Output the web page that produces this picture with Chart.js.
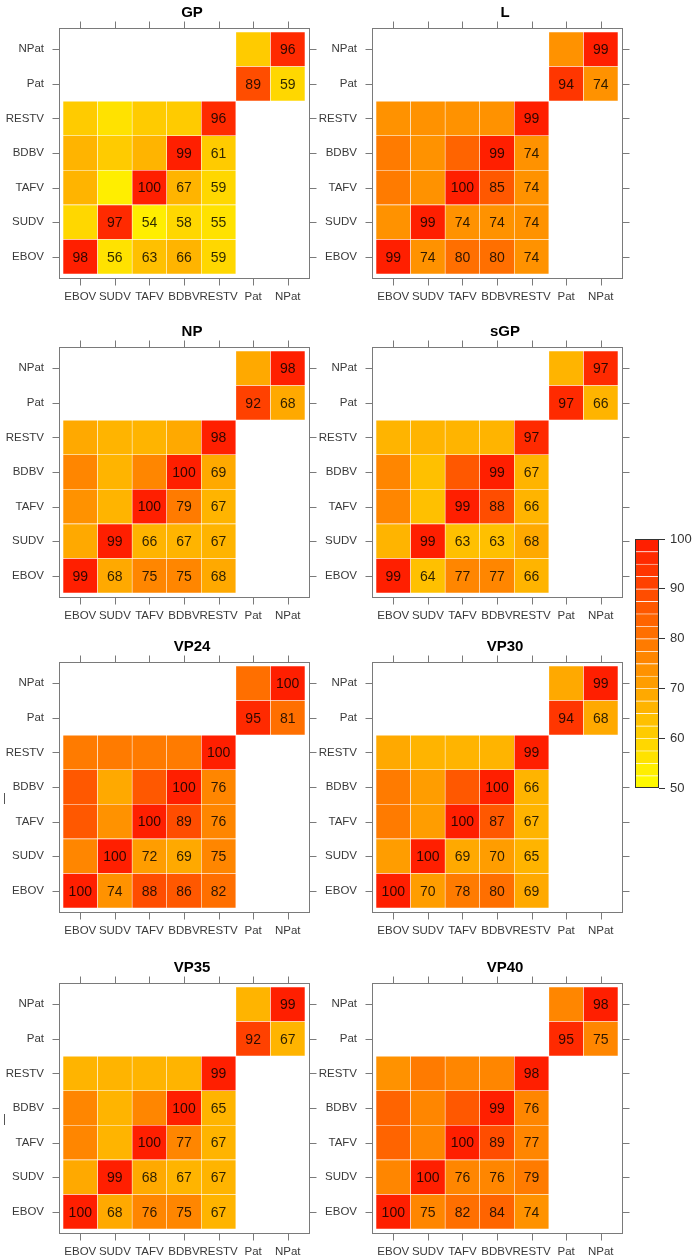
<!DOCTYPE html>
<html>
<head>
<meta charset="utf-8">
<script src="https://cdn.jsdelivr.net/npm/chart.js@4/dist/chart.umd.min.js"></script>
<style>
html,body{margin:0;padding:0;background:#fff;}
body{position:relative;width:697px;height:1260px;overflow:hidden;}
canvas{position:absolute;}
</style>
</head>
<body>
<script>
// ---------- DATA ----------
const categories = ['EBOV','SUDV','TAFV','BDBV','RESTV','Pat','NPat'];
const panelNames = ['GP','L','NP','sGP','VP24','VP30','VP35','VP40'];
const colorbarTicks = [50,60,70,80,90,100];
const colorbarMin = 50, colorbarMax = 100, colorbarStep = 2.5;

// rows bottom -> top: EBOV, SUDV, TAFV, BDBV, RESTV, Pat, NPat ; columns EBOV..NPat
const GP = [
  [98, 56, 63, 66, 59, null, null],
  [58, 97, 54, 58, 55, null, null],
  [66, 54, 100, 67, 59, null, null],
  [67, 60, 66, 99, 61, null, null],
  [61, 55, 60, 61, 96, null, null],
  [null, null, null, null, null, 89, 59],
  [null, null, null, null, null, 60, 96]
];
const L = [
  [99, 74, 80, 80, 74, null, null],
  [74, 99, 74, 74, 74, null, null],
  [79, 74, 100, 85, 74, null, null],
  [79, 74, 84, 99, 74, null, null],
  [74, 74, 74, 74, 99, null, null],
  [null, null, null, null, null, 94, 74],
  [null, null, null, null, null, 74, 99]
];
const NP = [
  [99, 68, 75, 75, 68, null, null],
  [68, 99, 66, 67, 67, null, null],
  [74, 67, 100, 79, 67, null, null],
  [76, 67, 77, 100, 69, null, null],
  [68, 67, 67, 68, 98, null, null],
  [null, null, null, null, null, 92, 68],
  [null, null, null, null, null, 68, 98]
];
const sGP = [
  [99, 64, 77, 77, 66, null, null],
  [65, 99, 63, 63, 68, null, null],
  [77, 64, 99, 88, 66, null, null],
  [77, 64, 87, 99, 67, null, null],
  [66, 67, 66, 66, 97, null, null],
  [null, null, null, null, null, 97, 66],
  [null, null, null, null, null, 66, 97]
];
const VP24 = [
  [100, 74, 88, 86, 82, null, null],
  [75, 100, 72, 69, 75, null, null],
  [87, 74, 100, 89, 76, null, null],
  [86, 69, 87, 100, 76, null, null],
  [79, 78, 78, 78, 100, null, null],
  [null, null, null, null, null, 95, 81],
  [null, null, null, null, null, 81, 100]
];
const VP30 = [
  [100, 70, 78, 80, 69, null, null],
  [70, 100, 69, 70, 65, null, null],
  [79, 70, 100, 87, 67, null, null],
  [79, 71, 86, 100, 66, null, null],
  [69, 66, 66, 66, 99, null, null],
  [null, null, null, null, null, 94, 68],
  [null, null, null, null, null, 68, 99]
];
const VP35 = [
  [100, 68, 76, 75, 67, null, null],
  [68, 99, 68, 67, 67, null, null],
  [76, 67, 100, 77, 67, null, null],
  [76, 67, 77, 100, 65, null, null],
  [67, 67, 67, 67, 99, null, null],
  [null, null, null, null, null, 92, 67],
  [null, null, null, null, null, 67, 99]
];
const VP40 = [
  [100, 75, 82, 84, 74, null, null],
  [75, 100, 76, 76, 79, null, null],
  [83, 75, 100, 89, 77, null, null],
  [84, 75, 87, 99, 76, null, null],
  [74, 79, 76, 76, 98, null, null],
  [null, null, null, null, null, 95, 75],
  [null, null, null, null, null, 75, 98]
];
const panelData = [GP, L, NP, sGP, VP24, VP30, VP35, VP40];

// ---------- STYLE / LAYOUT ----------
const FONT = "'Liberation Sans', Arial, Helvetica, sans-serif";
const canvasTops = [0, 319, 634, 955];
const canvasLefts = [0, 313];
const CW = 319, CH = 310;

function heatColor(v){
  const n = (colorbarMax - colorbarMin) / colorbarStep;
  const k = Math.min(n - 1, Math.max(0, Math.floor((v - colorbarMin) / colorbarStep)));
  const c = colorbarMin + colorbarStep * k + colorbarStep / 2;
  const g = Math.round(255 - 4.6 * (c - colorbarMin));
  return 'rgb(255,' + g + ',0)';
}

const panelPlugin = {
  id: 'panelDeco',
  afterDatasetsDraw(chart) {
    const ctx = chart.ctx, a = chart.chartArea;
    const opts = chart.options.plugins.panelDeco;
    // cell numbers
    ctx.save();
    ctx.font = '14px ' + FONT;
    ctx.fillStyle = 'rgba(0,0,0,0.82)';
    ctx.textAlign = 'center';
    ctx.textBaseline = 'middle';
    chart.data.datasets.forEach((ds, r) => {
      const meta = chart.getDatasetMeta(r);
      ds.values.forEach((v, c) => {
        if (v == null || c < r) return;
        const p = meta.data[c].getCenterPoint();
        ctx.fillText(String(v), p.x, p.y + 1);
      });
    });
    ctx.restore();
    // frame and ticks
    ctx.save();
    ctx.strokeStyle = '#7a7a7a';
    ctx.lineWidth = 1;
    const Lx = Math.round(a.left - 4) + 0.5, Rx = Math.round(a.right + 4) + 0.5;
    const Ty = Math.round(a.top - 4) + 0.5, By = Math.round(a.bottom + 4) + 0.5;
    ctx.strokeRect(Lx, Ty, Rx - Lx, By - Ty);
    ctx.beginPath();
    const xs = chart.scales.x, ys = chart.scales.y;
    xs.ticks.forEach((t, i) => {
      const x = Math.round(xs.getPixelForTick(i)) + 0.5;
      ctx.moveTo(x, By); ctx.lineTo(x, By + 7);
      ctx.moveTo(x, Ty); ctx.lineTo(x, Ty - 7);
    });
    ys.ticks.forEach((t) => {
      const y = Math.round(ys.getPixelForValue(t.value)) + 0.5;
      ctx.moveTo(Lx, y); ctx.lineTo(Lx - 7, y);
      ctx.moveTo(Rx, y); ctx.lineTo(Rx + 7, y);
    });
    ctx.stroke();
    // clipped axis-title stub seen at far left of some panels
    if (opts.stub) {
      ctx.strokeStyle = '#555';
      ctx.beginPath();
      ctx.moveTo(4.5, a.top + 127); ctx.lineTo(4.5, a.top + 138);
      ctx.stroke();
    }
    // title
    ctx.font = 'bold 15px ' + FONT;
    ctx.fillStyle = '#000';
    ctx.textAlign = 'center';
    ctx.textBaseline = 'middle';
    ctx.fillText(opts.title, (a.left + a.right) / 2 + 8, 12.5);
    ctx.restore();
  }
};

panelData.forEach((m, idx) => {
  const cv = document.createElement('canvas');
  cv.width = CW; cv.height = CH;
  cv.style.left = canvasLefts[idx % 2] + 'px';
  cv.style.top = canvasTops[Math.floor(idx / 2)] + 'px';
  cv.style.width = CW + 'px'; cv.style.height = CH + 'px';
  document.body.appendChild(cv);
  const datasets = m.map((row, r) => ({
    label: categories[r],
    values: row,
    data: row.map(v => v == null ? null : [r - 0.5, r + 0.5]),
    backgroundColor: row.map(v => v == null ? 'rgba(0,0,0,0)' : heatColor(v)),
    borderColor: 'rgba(255,255,255,0.45)',
    borderWidth: 0.6,
    borderSkipped: false,
    grouped: false,
    barPercentage: 1,
    categoryPercentage: 1
  }));
  new Chart(cv, {
    type: 'bar',
    data: { labels: categories, datasets },
    plugins: [panelPlugin],
    options: {
      responsive: false,
      animation: false,
      devicePixelRatio: 1,
      grouped: false,
      layout: { padding: { left: 0, top: 32, right: 14, bottom: 0 } },
      plugins: { legend: { display: false }, tooltip: { enabled: false }, panelDeco: { title: panelNames[idx], stub: (idx === 4 || idx === 6) } },
      scales: {
        x: {
          type: 'category',
          offset: true,
          grid: { display: false, drawTicks: false },
          border: { display: false },
          ticks: { autoSkip: false, maxRotation: 0, minRotation: 0, padding: 16, color: '#3a3a3a', font: { family: FONT, size: 11.5 } },
          afterFit(s) { s.height = 36; }
        },
        y: {
          type: 'linear',
          min: -0.5, max: 6.5,
          grid: { display: false, drawTicks: false },
          border: { display: false },
          afterBuildTicks(s) { s.ticks = categories.map((c, i) => ({ value: i })); },
          ticks: { padding: 19, color: '#3a3a3a', font: { family: FONT, size: 11.5 }, callback: (v) => categories[v] },
          afterFit(s) { s.width = 63; }
        }
      }
    }
  });
});

// ---------- COLORBAR ----------
const cb = document.createElement('canvas');
cb.width = 97; cb.height = 290;
cb.style.left = '600px'; cb.style.top = '520px'; cb.style.width = '97px'; cb.style.height = '290px';
document.body.appendChild(cb);
const bands = [];
for (let v = colorbarMin; v < colorbarMax; v += colorbarStep) bands.push(v);
const cbFrame = {
  id: 'cbFrame',
  afterDatasetsDraw(chart) {
    const ctx = chart.ctx, a = chart.chartArea;
    ctx.save();
    ctx.strokeStyle = '#333';
    ctx.lineWidth = 1;
    ctx.strokeRect(Math.round(a.left) + 0.5, Math.round(a.top) + 0.5, Math.round(a.right - a.left) - 1, Math.round(a.bottom - a.top) - 1);
    ctx.restore();
  }
};
new Chart(cb, {
  type: 'bar',
  data: {
    labels: [''],
    datasets: bands.map(v => ({
      data: [[v, v + colorbarStep]],
      backgroundColor: heatColor(v + colorbarStep / 2),
      borderColor: 'rgba(255,255,255,0.18)',
      borderWidth: { top: 1, bottom: 0, left: 0, right: 0 },
      borderSkipped: false,
      grouped: false,
      barPercentage: 1,
      categoryPercentage: 1
    }))
  },
  plugins: [cbFrame],
  options: {
    responsive: false,
    animation: false,
    devicePixelRatio: 1,
    grouped: false,
    layout: { padding: { left: 35, top: 19, right: 0, bottom: 22 } },
    plugins: { legend: { display: false }, tooltip: { enabled: false } },
    scales: {
      x: { display: false, offset: true },
      y: {
        position: 'right',
        min: colorbarMin, max: colorbarMax,
        afterBuildTicks(s) { s.ticks = colorbarTicks.map(v => ({ value: v })); },
        grid: { display: true, drawOnChartArea: false, drawTicks: true, tickLength: 6, tickColor: '#333', color: '#333' },
        border: { display: false },
        ticks: { padding: 5, color: '#333', font: { family: FONT, size: 13 } },
        afterFit(s) { s.width = 38; }
      }
    }
  }
});
</script>
</body>
</html>
